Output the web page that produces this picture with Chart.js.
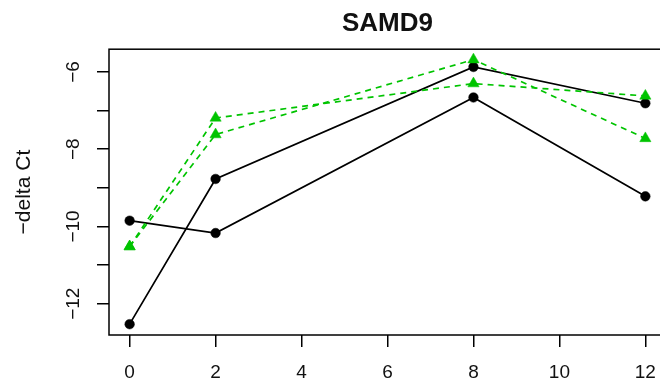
<!DOCTYPE html>
<html>
<head>
<meta charset="utf-8">
<script src="https://cdn.jsdelivr.net/npm/chart.js@4.4.1/dist/chart.umd.min.js"></script>
<style>
  html, body { margin: 0; padding: 0; background: #fff; overflow: hidden; }
  #wrap { width: 680px; height: 381px; }
</style>
</head>
<body>
<div id="wrap"><canvas id="c" width="680" height="381"></canvas></div>
<script>
// days sampled
const days = [0, 2, 8, 12];

// black solid series
const blackA = [-12.53, -8.77, -5.87, -6.81];
const blackB = [-9.85, -10.17, -6.66, -9.22];

// green dashed series
const greenA = [-10.52, -7.62, -5.68, -7.72];
const greenB = [-10.52, -7.19, -6.30, -6.62];

// axes
const xTicks = [0, 2, 4, 6, 8, 10, 12];
const yTicks = [-12, -11, -10, -9, -8, -7, -6];
const yLabels = [-12, -10, -8, -6];

const FONT = '"Liberation Sans", Arial, sans-serif';
const GREEN = '#00c400';

function pts(vals){ return vals.map((v, i) => ({ x: days[i], y: v })); }

function blackSet(vals){
  return {
    data: pts(vals), borderColor: '#000', borderWidth: 1.7,
    pointStyle: 'circle', pointRadius: 4.8, pointBackgroundColor: '#000',
    pointBorderColor: '#000', pointBorderWidth: 0.5, order: 1
  };
}
function greenSet(vals){
  return {
    data: pts(vals), borderColor: GREEN, borderWidth: 1.7, borderDash: [6, 5],
    pointStyle: 'triangle', pointRadius: 6.5, pointBackgroundColor: GREEN,
    pointBorderColor: GREEN, pointBorderWidth: 0.5, order: 0
  };
}

// R style box around the plot region
const boxPlugin = {
  id: 'box',
  afterDraw(chart){
    const a = chart.chartArea, ctx = chart.ctx;
    ctx.save();
    ctx.strokeStyle = '#000';
    ctx.lineWidth = 1.5;
    ctx.strokeRect(a.left, a.top, a.right - a.left, a.bottom - a.top);
    ctx.restore();
  }
};

new Chart(document.getElementById('c'), {
  type: 'line',
  data: { datasets: [blackSet(blackA), blackSet(blackB), greenSet(greenA), greenSet(greenB)] },
  options: {
    responsive: false,
    animation: false,
    layout: { padding: { left: 0, right: 14, top: 0, bottom: 0 } },
    plugins: {
      legend: { display: false },
      tooltip: { enabled: false },
      title: {
        display: true, text: 'SAMD9', fullSize: false, color: '#111',
        font: { family: FONT, size: 26, weight: 'bold', lineHeight: 1.2 },
        padding: { top: 8, bottom: 10 }
      }
    },
    scales: {
      x: {
        type: 'linear', min: -0.48, max: 12.48,
        afterBuildTicks: s => { s.ticks = xTicks.map(v => ({ value: v })); },
        afterFit: s => { s.height = 46; },
        border: { display: false },
        grid: { drawOnChartArea: false, drawTicks: true, tickLength: 12, tickColor: '#000', lineWidth: 1.5 },
        ticks: { autoSkip: false, maxRotation: 0, color: '#111', padding: 14,
          font: { family: FONT, size: 19 }, callback: v => String(v) }
      },
      y: {
        type: 'linear', min: -12.81, max: -5.41,
        afterBuildTicks: s => { s.ticks = yTicks.map(v => ({ value: v })); },
        afterFit: s => { s.width = 109; },
        border: { display: false },
        grid: { drawOnChartArea: false, drawTicks: true, tickLength: 12, tickColor: '#000', lineWidth: 1.5 },
        ticks: { autoSkip: false, minRotation: 90, maxRotation: 90, crossAlign: 'center',
          color: '#111', padding: 7, font: { family: FONT, size: 19 },
          callback: v => yLabels.includes(v) ? '\u2212' + Math.abs(v) : '' },
        title: { display: true, text: '\u2212delta Ct', color: '#111',
          font: { family: FONT, size: 21, lineHeight: 1.2 }, padding: { top: 12, bottom: 0 } }
      }
    }
  },
  plugins: [boxPlugin]
});
</script>
</body>
</html>
